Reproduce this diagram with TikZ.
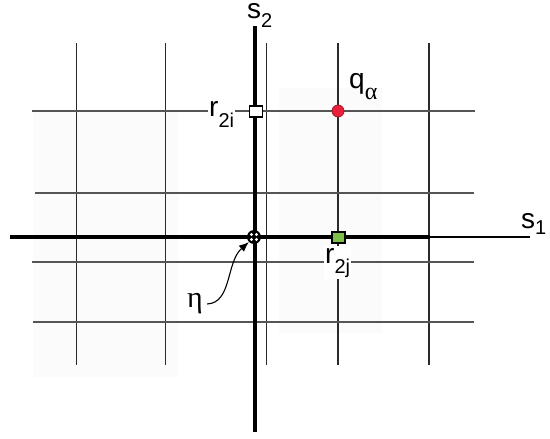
\documentclass[tikz,border=0pt]{standalone}
\usepackage{fontspec}
\setmainfont{Liberation Sans}
\newfontfamily\grk{Liberation Serif}
\usetikzlibrary{arrows.meta}
\newcommand{\mylab}[3]{{\fontsize{28}{28}\selectfont #1}\raisebox{-#3pt}{\fontsize{20}{20}\selectfont #2}}
\definecolor{gridv}{HTML}{2A2A2A}
\definecolor{gridh}{HTML}{555555}
\definecolor{ptred}{HTML}{E8203C}
\definecolor{ptgreen}{HTML}{7CBF4A}
\definecolor{scanshade}{HTML}{FBFBFB}
\tikzset{
  vline/.style={draw=gridv, line width=1.2pt},
  hline/.style={draw=gridh, line width=1.2pt},
  axis/.style={draw=black, line width=3.6pt},
  lab/.style={inner sep=1pt, anchor=base west},
  sq/.style={draw=black, line width=1.2pt, minimum width=13pt, minimum height=11pt, inner sep=0pt, rectangle},
}
\begin{document}
\begin{tikzpicture}[x=1pt, y=-1pt]
\useasboundingbox (0,0) rectangle (550,439);
% faint scan shading
\fill[scanshade] (33,112) rectangle (178,377);
\fill[scanshade] (279,88) rectangle (382,333);
% vertical grid lines
\foreach \x in {76.5,165.5,266.5,338,429} \draw[vline] (\x,43) -- (\x,365);
% horizontal grid lines
\draw[hline] (32,111) -- (475,111);
\draw[hline] (35,193) -- (474,193);
\draw[hline] (32,262) -- (474,262);
\draw[hline] (33,322) -- (474,322);
% axes
\draw[axis] (255,26) -- (255,432);
\draw[axis] (10,237) -- (430,237);
\draw[black, line width=2pt] (430,237) -- (530,237);
% axis labels
\node[lab, inner sep=0pt] (s1) at (521,228) {\mylab{s}{1}{6}};
\node[lab, inner sep=0pt] (s2) at (247,19) {\mylab{s}{2}{9}};
% markers
\node[circle, draw=ptred!70!black, fill=ptred, line width=0.8pt, minimum size=12pt, inner sep=0pt] (qa) at (338,111) {};
\node[sq, fill=white] (r2i) at (256,111.5) {};
\node[sq, fill=ptgreen] (r2j) at (338.5,237.5) {};
\node[circle, fill=black, minimum size=14pt, inner sep=0pt] (orig) at (254,237) {};
\foreach \dx/\dy in {-2.5/-2.5, 2.5/-2.5, -2.5/2.5, 2.5/2.5}
  \fill[white] ([shift={(\dx,\dy)}]orig.center) circle (1.7pt);
% labels
\node[lab] (qal) at (348,88) {{\fontsize{28}{28}\selectfont q}\raisebox{-12pt}{\fontsize{24}{24}\grk α}};
\node[lab, fill=white, inner ysep=2pt] (r2il) at (208,116) {\mylab{r}{2i}{11}};
\node[lab, fill=white, inner ysep=2pt] (r2jl) at (324,263) {\mylab{r}{2j}{10}};
\node[lab] (eta) at (186,307) {\fontsize{30}{30}\grk η};
\draw[black, line width=1.1pt, -{Latex[length=10pt,width=8pt]}]
  ([shift={(3,-3)}]eta.base east) .. controls (232,303) and (226,262) .. (orig.south west);
\end{tikzpicture}
\end{document}
